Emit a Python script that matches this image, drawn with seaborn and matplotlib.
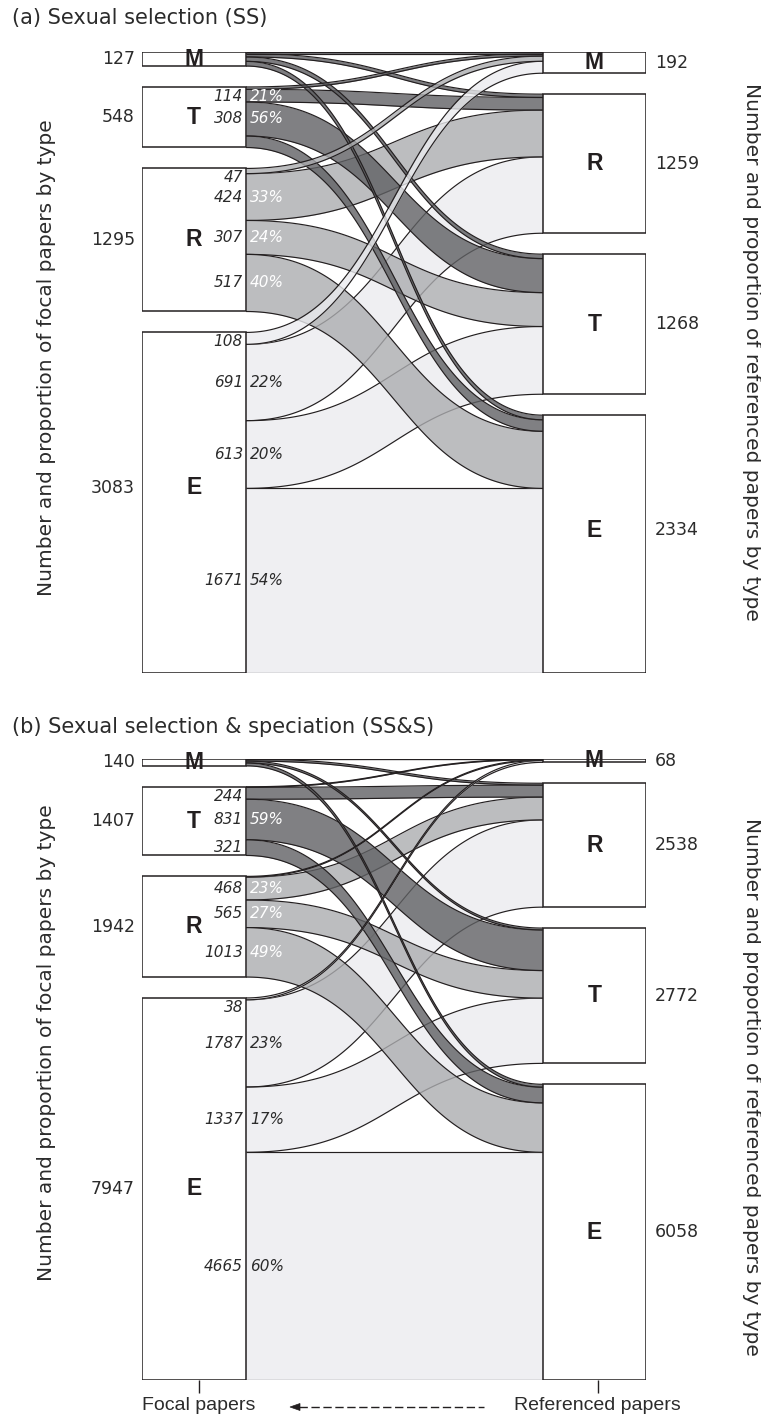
import numpy as np
import pandas as pd
import matplotlib
matplotlib.use("Agg")
import matplotlib.pyplot as plt
import seaborn as sns
from matplotlib.patches import Rectangle, Polygon
from matplotlib.lines import Line2D

# ---------------- data ----------------
focal_types = ["M", "T", "R", "E"]   # left column (focal papers), top to bottom
ref_types = ["M", "R", "T", "E"]     # right column (referenced papers), top to bottom

# panel (a) Sexual selection: flows from focal type to referenced type (M, R, T, E)
a_from_M = [15, 30, 40, 42]
a_from_T = [22, 114, 308, 104]
a_from_R = [47, 424, 307, 517]
a_from_E = [108, 691, 613, 1671]
a_focal_totals = [127, 548, 1295, 3083]
a_ref_totals = [192, 1259, 1268, 2334]
a_num_flows = [("T", "R"), ("T", "T"), ("R", "M"), ("R", "R"), ("R", "T"), ("R", "E"),
               ("E", "M"), ("E", "R"), ("E", "T"), ("E", "E")]
a_pct_flows = [("T", "R"), ("T", "T"), ("R", "R"), ("R", "T"), ("R", "E"),
               ("E", "R"), ("E", "T"), ("E", "E")]
a_pct_text = ["21%", "56%", "33%", "24%", "40%", "22%", "20%", "54%"]

# panel (b) Sexual selection & speciation
b_from_M = [3, 39, 39, 59]
b_from_T = [11, 244, 831, 321]
b_from_R = [16, 468, 565, 1013]
b_from_E = [38, 1787, 1337, 4665]
b_focal_totals = [140, 1407, 1942, 7947]
b_ref_totals = [68, 2538, 2772, 6058]
b_num_flows = [("T", "R"), ("T", "T"), ("T", "E"), ("R", "R"), ("R", "T"), ("R", "E"),
               ("E", "M"), ("E", "R"), ("E", "T"), ("E", "E")]
b_pct_flows = [("T", "T"), ("R", "R"), ("R", "T"), ("R", "E"),
               ("E", "R"), ("E", "T"), ("E", "E")]
b_pct_text = ["59%", "23%", "27%", "49%", "23%", "17%", "60%"]

titles = ["(a) Sexual selection (SS)", "(b) Sexual selection & speciation (SS&S)"]
ylabel_left = "Number and proportion of focal papers by type"
ylabel_right = "Number and proportion of referenced papers by type"
xlabels = ["Focal papers", "Referenced papers"]


def make_df(rows):
    rec = []
    for s, vals in zip(focal_types, rows):
        for d, v in zip(ref_types, vals):
            rec.append({"source": s, "target": d, "value": v})
    return pd.DataFrame(rec)


df_a = make_df([a_from_M, a_from_T, a_from_R, a_from_E])
df_b = make_df([b_from_M, b_from_T, b_from_R, b_from_E])

# ---------------- style ----------------
sns.set_theme(style="white")
plt.rcParams["font.family"] = ["DejaVu Sans"]

EDGE = "#231f20"
TXT = "#2b2b2b"
band_color = {"M": "#5c5d60", "T": "#606164", "R": "#acadb0", "E": "#ebecef"}
BAND_ALPHA = 0.8

W, HP = 761, 1421
fig = plt.figure(figsize=(W / 100, HP / 100), dpi=100)
fig.patch.set_facecolor("white")


def px_axes(x0, y0, x1, y1):
    return fig.add_axes([x0 / W, 1 - y1 / HP, (x1 - x0) / W, (y1 - y0) / HP])


XL = 104 / 504   # right edge of focal boxes (axes fraction)
XR = 401 / 504   # left edge of referenced boxes


def band(x0, x1, y0t, y0b, y1t, y1b, n=120):
    t = np.linspace(0, 1, n)
    xm = (x0 + x1) / 2
    bx = (1 - t) ** 3 * x0 + 3 * (1 - t) ** 2 * t * xm + 3 * (1 - t) * t ** 2 * xm + t ** 3 * x1
    s = 3 * t ** 2 - 2 * t ** 3
    return bx, y0t + (y1t - y0t) * s, y0b + (y1b - y0b) * s


def draw_panel(ax, df, focal_totals, ref_totals, num_flows, pct_flows, pct_text, pix_h,
               e_shift=(0, 0)):
    val = {(r.source, r.target): r.value for r in df.itertuples()}
    src_sum = df.groupby("source")["value"].sum().reindex(focal_types)
    dst_sum = df.groupby("target")["value"].sum().reindex(ref_types)
    total = src_sum.sum()
    gap = 0.0375 * total
    H = total + 3 * gap
    upp = H / pix_h
    ax.set_xlim(0, 1)
    ax.set_ylim(H, 0)
    ax.set_yticks([])
    for sp in ax.spines.values():
        sp.set_visible(False)
    ax.set_facecolor("none")

    ltop, rtop = {}, {}
    y = 0
    for t in focal_types:
        ltop[t] = y
        y += src_sum[t] + gap
    y = 0
    for t in ref_types:
        rtop[t] = y
        y += dst_sum[t] + gap

    lpos, rpos = {}, {}
    for s in focal_types:
        y = ltop[s]
        for d in ref_types:
            lpos[(s, d)] = (y, y + val[(s, d)])
            y += val[(s, d)]
    for d in ref_types:
        y = rtop[d]
        for s in focal_types:
            rpos[(s, d)] = (y, y + val[(s, d)])
            y += val[(s, d)]

    order = [(s, d) for s in ["E", "R", "T", "M"] for d in ref_types if d != "M"]
    order += [(s, "M") for s in ["E", "R", "T", "M"]]
    for i, (s, d) in enumerate(order):
        v = val[(s, d)]
        if v <= 0:
            continue
        z = 2 + i * 0.02
        bx, top, bot = band(XL, XR, lpos[(s, d)][0], lpos[(s, d)][1],
                            rpos[(s, d)][0], rpos[(s, d)][1])
        ax.fill_between(bx, top, bot, color=band_color[s], alpha=BAND_ALPHA, lw=0, zorder=z)
        ax.plot(bx, top, color=EDGE, lw=0.85, zorder=z + 0.01, solid_capstyle="butt")
        ax.plot(bx, bot, color=EDGE, lw=0.85, zorder=z + 0.01, solid_capstyle="butt")

    # boxes
    for t, lab in zip(focal_types, focal_totals):
        h = src_sum[t]
        yc = ltop[t] + h / 2 + (e_shift[0] * upp if t == "E" else 0)
        ax.add_patch(Rectangle((0, ltop[t]), XL, h, fc="white", ec=EDGE, lw=1.1, zorder=5))
        ax.text(XL / 2, yc, t, ha="center", va="center", fontsize=16.5,
                fontweight="bold", family="Liberation Sans", color=EDGE, zorder=6)
        ax.text(-7 / 504, yc, str(lab), ha="right", va="center",
                fontsize=12.5, color=TXT, clip_on=False)
    for t, lab in zip(ref_types, ref_totals):
        h = dst_sum[t]
        yc = rtop[t] + h / 2 + (e_shift[1] * upp if t == "E" else 0)
        ax.add_patch(Rectangle((XR, rtop[t]), 1 - XR, h, fc="white", ec=EDGE, lw=1.1, zorder=5))
        ax.text((XR + 1) / 2, yc, t, ha="center", va="center", fontsize=16.5,
                fontweight="bold", family="Liberation Sans", color=EDGE, zorder=6)
        ax.text(1 + 9 / 504, yc, str(lab), ha="left", va="center",
                fontsize=12.5, color=TXT, clip_on=False)

    # flow labels (numbers and proportions)
    label_y = {}
    for (s, d) in num_flows:
        y0, y1 = lpos[(s, d)]
        yc = max((y0 + y1) / 2, ltop[s] + 9.5 * upp)
        label_y[(s, d)] = yc
        ax.text(XL - 3 / 504, yc, str(val[(s, d)]), ha="right", va="center", fontsize=11,
                style="italic", color=TXT, zorder=7)
    for (s, d), p in zip(pct_flows, pct_text):
        yc = label_y.get((s, d), sum(lpos[(s, d)]) / 2)
        ax.text(XL + 4 / 504, yc, p, ha="left", va="center", fontsize=11, style="italic",
                color="white" if s in ("T", "R") else TXT, zorder=7)
    return ax


ax_a = px_axes(142, 52, 646, 673)
ax_b = px_axes(142, 759, 646, 1380)
draw_panel(ax_a, df_a, a_focal_totals, a_ref_totals, a_num_flows, a_pct_flows, a_pct_text, 621,
           e_shift=(-15, -14))
draw_panel(ax_b, df_b, b_focal_totals, b_ref_totals, b_num_flows, b_pct_flows, b_pct_text, 621)

ax_a.set_xticks([])
ax_b.set_xticks([XL / 2 + 5 / 504, (XR + 1) / 2 + 3 / 504])
ax_b.set_xticklabels(xlabels, fontsize=14, family="Liberation Sans", color=TXT)
ax_b.tick_params(axis="x", bottom=True, length=9, width=1.0, color=EDGE, pad=3, direction="out")

# titles and side labels
fig.text(12 / W, 1 - 18 / HP, titles[0], ha="left", va="center", fontsize=15, color=TXT)
fig.text(12 / W, 1 - 727 / HP, titles[1], ha="left", va="center", fontsize=15, color=TXT)
for yc in (358, 1043):
    fig.text(47 / W, 1 - yc / HP, ylabel_left, rotation=90, ha="center", va="center",
             fontsize=14.5, color=TXT)
for yc in (352, 1087):
    fig.text(752 / W, 1 - yc / HP, ylabel_right, rotation=-90, ha="center", va="center",
             fontsize=14.5, color=TXT)

# dashed arrow pointing from referenced to focal papers
ya = 1 - 1407 / HP
fig.add_artist(Line2D([299 / W, 484 / W], [ya, ya], transform=fig.transFigure,
                      color=EDGE, lw=1.0, dashes=(6, 2.6)))
fig.add_artist(Polygon([(290 / W, ya), (300 / W, ya + 3.5 / HP), (300 / W, ya - 3.5 / HP)],
                       closed=True, transform=fig.transFigure, fc=EDGE, ec=EDGE, lw=0.5))

fig.savefig("out.png", dpi=100, facecolor="white")
